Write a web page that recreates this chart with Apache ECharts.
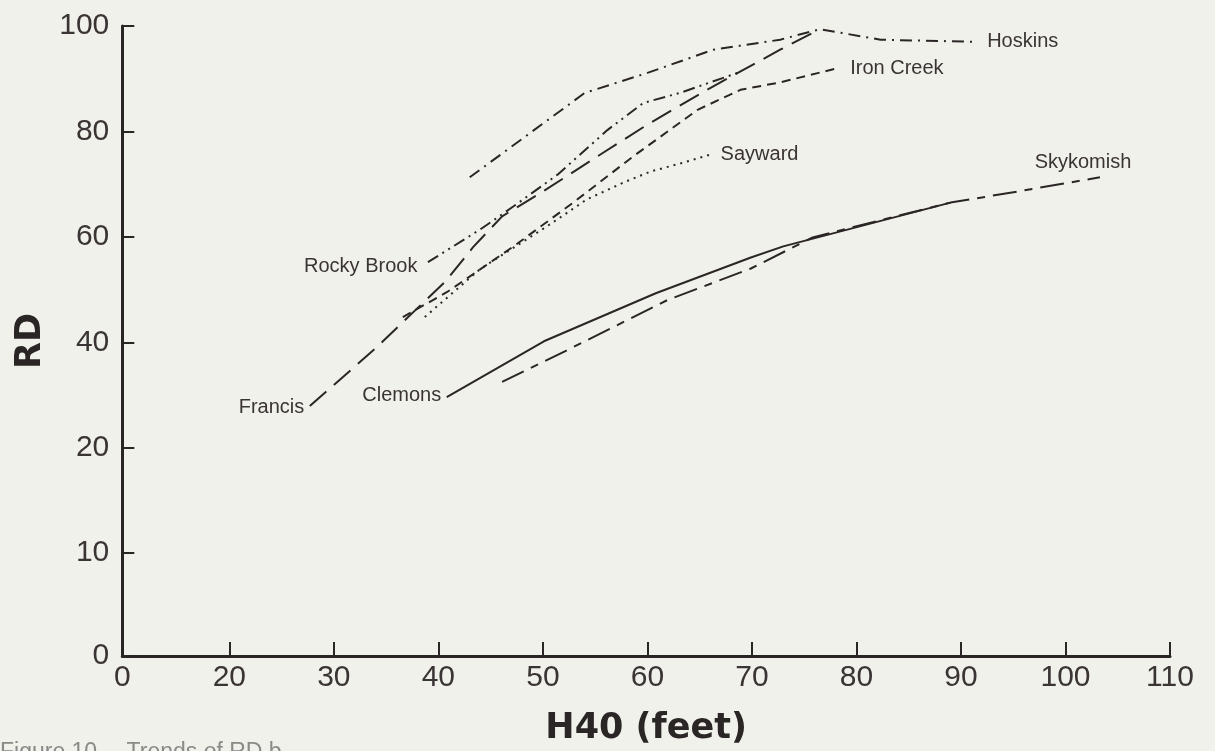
<!DOCTYPE html>
<html><head><meta charset="utf-8">
<script src="https://cdn.jsdelivr.net/npm/echarts@6/dist/echarts.min.js"></script>
<style>html,body{margin:0;padding:0;background:#f1f1eb;}#c{width:1215px;height:751px;}</style>
</head><body><div id="c"></div>
<script>
// Axis ticks (the figure's axes are broken: "0" sits at the origin)
const xTickValues = [9.76, 20, 30, 40, 50, 60, 70, 80, 90, 100, 110];
const xTickLabels = ['0', '20', '30', '40', '50', '60', '70', '80', '90', '100', '110'];
const yTickValues = [-19.5, 0, 20, 40, 60, 80, 100];
const yTickLabels = ['0', '10', '20', '40', '60', '80', '100'];

// Series: [H40, RD]
const hoskins = [[43.0,71.3],[54.0,87.3],[60.0,91.1],[66.3,95.5],[72.7,97.4],[76.5,99.4],[82.3,97.4],[91.5,97.0]];
const ironCreek = [[36.6,44.8],[40.8,49.5],[47.2,58.2],[52.9,66.5],[58.6,75.2],[64.8,84.1],[68.9,87.9],[72.7,89.3],[78.4,92.1]];
const sayward = [[38.7,44.8],[44.0,53.9],[50.7,62.4],[54.2,67.1],[57.7,70.3],[60.3,72.4],[63.1,73.9],[66.0,75.6]];
const rockyBrook = [[39.0,55.2],[44.0,61.4],[47.2,65.8],[51.4,71.8],[56.2,80.3],[59.6,85.4],[63.1,87.3],[68.9,91.3]];
const francis = [[27.7,27.9],[33.9,38.7],[40.7,51.6],[43.3,58.0],[46.1,63.9],[50.0,68.6],[55.8,76.0],[60.0,81.3],[65.7,87.9],[72.7,95.5],[76.5,99.4]];
const clemons = [[40.8,29.6],[50.1,40.2],[60.8,49.3],[69.9,56.1],[73.0,58.2],[89.0,66.5]];
const skykomish = [[46.1,32.5],[52.1,38.3],[61.9,48.0],[69.9,54.0],[75.8,59.9],[89.0,66.5],[95.4,68.6],[103.3,71.3]];

const INK = '#2b2626';
const TXT = '#3a3434';

function mk(name, data, dash, at, pos, dist, offset) {
  const idx = at === 'start' ? 0 : data.length - 1;
  const d = data.map((p, i) => {
    if (i !== idx) return p;
    return { value: p, label: { show: true, position: pos, distance: dist, offset: offset,
      formatter: name, color: TXT, fontSize: 20, fontFamily: 'Liberation Sans' } };
  });
  return {
    type: 'line', name: name, data: d, silent: true, animation: false,
    symbol: 'circle', symbolSize: 1, showSymbol: true,
    itemStyle: { color: 'rgba(0,0,0,0)', borderWidth: 0 },
    lineStyle: { color: INK, width: 2, type: dash },
    label: { show: false }, z: 3
  };
}

const chart = echarts.init(document.getElementById('c'), null, { renderer: 'canvas' });
chart.setOption({
  backgroundColor: '#f1f1eb',
  animation: false,
  grid: { left: 122.3, right: 45, top: 26, bottom: 93.3, containLabel: false },
  xAxis: {
    type: 'value', min: xTickValues[0], max: xTickValues[xTickValues.length - 1],
    name: 'H40 (feet)', nameLocation: 'middle', nameGap: 55, nameMoveOverlap: false,
    nameTextStyle: { fontFamily: 'DejaVu Sans', fontWeight: 'bold', fontSize: 35, color: INK },
    axisLine: { onZero: false, lineStyle: { color: INK, width: 3 } },
    axisTick: { inside: true, length: 14, lineStyle: { color: INK, width: 2 }, customValues: xTickValues },
    axisLabel: { customValues: xTickValues, margin: 7, fontFamily: 'Liberation Sans', fontSize: 30, color: TXT,
      formatter: v => xTickLabels[xTickValues.indexOf(v)] },
    splitLine: { show: false }
  },
  yAxis: {
    type: 'value', min: yTickValues[0], max: yTickValues[yTickValues.length - 1],
    name: 'RD', nameLocation: 'middle', nameGap: 74, nameRotate: 90, nameMoveOverlap: false,
    nameTextStyle: { fontFamily: 'DejaVu Sans', fontWeight: 'bold', fontSize: 35, color: INK },
    axisLine: { onZero: false, lineStyle: { color: INK, width: 3 } },
    axisTick: { inside: true, length: 12, lineStyle: { color: INK, width: 2 }, customValues: yTickValues },
    axisLabel: { customValues: yTickValues, margin: 13, fontFamily: 'Liberation Sans', fontSize: 30, color: TXT,
      formatter: v => yTickLabels[yTickValues.indexOf(v)] },
    splitLine: { show: false }
  },
  graphic: [{ type: 'text', left: 0, top: 741, style: { text: 'Figure 10.\u2014Trends of RD b', fontSize: 23, fontFamily: 'Liberation Sans', fill: '#8a8a86' } }],
  series: [
    mk('Hoskins', hoskins, [12, 6, 2, 6], 'end', 'right', 10, [0, 0]),
    mk('Iron Creek', ironCreek, [9, 6], 'end', 'right', 10, [0, 1]),
    mk('Sayward', sayward, [2, 5], 'end', 'right', 10, [0, 0]),
    mk('Rocky Brook', rockyBrook, [12, 5, 2, 5, 2, 5], 'start', 'left', 10, [0, 4]),
    mk('Francis', francis, [22, 10], 'start', 'left', 5, [0, 1]),
    mk('Clemons', clemons, 'solid', 'start', 'left', 5, [0, -2]),
    mk('Skykomish', skykomish, [24, 8, 8, 8], 'end', 'top', 4, [-17, 0])
  ]
});
</script></body></html>
